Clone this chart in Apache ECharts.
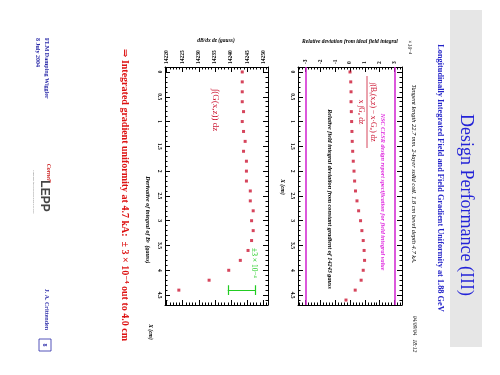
<!DOCTYPE html>
<html><head><meta charset="utf-8">
<script src="https://cdn.jsdelivr.net/npm/echarts@6/dist/echarts.min.js"></script>
<style>html,body{margin:0;padding:0;background:#fff}#c{width:500px;height:375px}</style>
</head><body><div id="c"></div>
<script>
// ---- data ----
const positionsCm = [0,0.2,0.4,0.6,0.8,1.0,1.2,1.4,1.6,1.8,2.0,2.2,2.4,2.6,2.8,3.0,3.2,3.4,3.6,3.8,4.0,4.2,4.4,4.6];
const relDeviation = [0,0.05,0.07,0.07,0.09,0.11,0.13,0.15,0.18,0.22,0.27,0.31,0.37,0.47,0.58,0.71,0.80,0.89,0.95,0.98,0.89,0.75,0.35,-0.27];
const gradientCm = [0,0.2,0.4,0.6,0.8,1.0,1.2,1.4,1.6,1.8,2.0,2.2,2.4,2.6,2.8,3.0,3.2,3.4,3.6,3.8,4.0,4.2,4.4];
const gradientIntegral = [14243.5,14243.5,14243.5,14243.5,14243.9,14243.5,14243.9,14244.4,14243.9,14244.8,14244.8,14244.8,14246.0,14246.0,14246.9,14246.4,14246.9,14246.4,14245.3,14242.9,14239.3,14233.2,14223.8];
const cmTicks = [0,0.5,1,1.5,2,2.5,3,3.5,4,4.5];
const cmTickLabels = ['0','0.5','1','1.5','2','2.5','3','3.5','4','4.5'];
const cmMinorTicks = [0.1,0.2,0.3,0.4,0.6,0.7,0.8,0.9,1.1,1.2,1.3,1.4,1.6,1.7,1.8,1.9,2.1,2.2,2.3,2.4,2.6,2.7,2.8,2.9,3.1,3.2,3.3,3.4,3.6,3.7,3.8,3.9,4.1,4.2,4.3,4.4,4.6,4.7];
const relTicks = [-3,-2,-1,0,1,2,3];
const relTickLabels = ['-3','-2','-1','0','1','2','3'];
const relMinorTicks = [-3.4,-3.2,-2.8,-2.6,-2.4,-2.2,-1.8,-1.6,-1.4,-1.2,-0.8,-0.6,-0.4,-0.2,0.2,0.4,0.6,0.8,1.2,1.4,1.6,1.8,2.2,2.4,2.6,2.8,3.2,3.4];
const gradTicks = [14220,14225,14230,14235,14240,14245,14250];
const gradTickLabels = ['14220','14225','14230','14235','14240','14245','14250'];
const gradMinorTicks = [14221,14222,14223,14224,14226,14227,14228,14229,14231,14232,14233,14234,14236,14237,14238,14239,14241,14242,14243,14244,14246,14247,14248,14249,14251];
const specLimits = [-3,3];
const errorBarCm = 4.4;
const errorBarRange = [14239.0,14247.6];

// ---- styles ----
const SERIF = '"Liberation Serif","DejaVu Serif",serif';
const RED = '#cc1733';
const cmRange = [-0.1,4.7];
const relRange = [-3.5,3.5];
const gradRange = [14219.5,14251.5];

function xAx(grid, pos, range, ticks, labels, len, showLabel, showLine){
  return {type:'value', gridIndex:grid, position:pos, min:range[0], max:range[1],
    axisLine:{show:showLine, onZero:false, lineStyle:{color:'#000', width:1}},
    axisTick:{show:true, inside:true, length:len, customValues:ticks, lineStyle:{color:'#000', width:1}},
    axisLabel:{show:showLabel, customValues:ticks, rotate:-90, margin:3, fontSize:5.5, fontFamily:SERIF, fontWeight:'bold', color:'#000',
      formatter:(v)=>{const i=ticks.indexOf(v); return i>=0 && labels? labels[i] : '';}},
    splitLine:{show:false}};
}
function yAx(grid, pos, ticks, labels, len, showLabel, showLine){
  const a = xAx(grid, pos, cmRange, ticks, labels, len, showLabel, showLine);
  a.inverse = true;
  return a;
}

const xAxes = [
  xAx(0,'top',relRange,relTicks,relTickLabels,5,true,true),
  xAx(0,'bottom',relRange,relTicks,null,5,false,true),
  xAx(0,'top',relRange,relMinorTicks,null,2.5,false,false),
  xAx(0,'bottom',relRange,relMinorTicks,null,2.5,false,false),
  xAx(1,'top',gradRange,gradTicks,gradTickLabels,5,true,true),
  xAx(1,'bottom',gradRange,gradTicks,null,5,false,true),
  xAx(1,'top',gradRange,gradMinorTicks,null,2.5,false,false),
  xAx(1,'bottom',gradRange,gradMinorTicks,null,2.5,false,false)
];
const yAxes = [
  yAx(0,'left',cmTicks,cmTickLabels,5,true,true),
  yAx(0,'right',cmTicks,null,5,false,true),
  yAx(0,'left',cmMinorTicks,null,2.5,false,false),
  yAx(0,'right',cmMinorTicks,null,2.5,false,false),
  yAx(1,'left',cmTicks,cmTickLabels,5,true,true),
  yAx(1,'right',cmTicks,null,5,false,true),
  yAx(1,'left',cmMinorTicks,null,2.5,false,false),
  yAx(1,'right',cmMinorTicks,null,2.5,false,false)
];

function vtext(x, y, text, o){
  o = o || {};
  return {type:'text', x:x, y:y, rotation:-Math.PI/2, z:10,
    style:{text:text, fontSize:o.size||6, fontFamily:o.family||SERIF, fill:o.color||'#000',
      fontWeight:o.weight||'normal', fontStyle:o.style||'normal', align:o.align||'center', verticalAlign:'middle'}};
}
function htext(x, y, text, o){
  const t = vtext(x,y,text,o); t.rotation = 0; return t;
}

const graphics = [
  {type:'rect', shape:{x:450, y:10, width:32, height:337}, style:{fill:'#e6e6e6'}, z:0},
  vtext(466, 205, 'Design Performance (III)', {size:18, color:'#2323d8'}),
  vtext(440, 178, 'Longitudinally Integrated Field and Field Gradient Uniformity at 1.88 GeV', {size:8.3, color:'#2323c8', weight:'bold'}),
  vtext(414, 174, 'Tangent length 22.7 mm. 2-layer solid coil. 1.8 cm bevel depth 4.7 kA.', {size:6.4, style:'italic'}),
  vtext(414, 334, '04/09/04   18:12', {size:5.5, style:'italic'}),
  vtext(409, 47, '×10⁻⁴', {size:5.5, style:'italic'}),
  htext(350, 42, 'Relative deviation from ideal field integral', {size:5.5, style:'italic', weight:'bold'}),
  htext(216, 41, 'dB/dx dz (gauss)', {size:5.5, style:'italic', weight:'bold'}),
  vtext(282, 187, 'X (cm)', {size:5.5, style:'italic', weight:'bold'}),
  vtext(150, 332, 'X (cm)', {size:5.5, style:'italic', weight:'bold'}),
  vtext(148, 241, 'Derivative of integral of B', {size:6, style:'italic', weight:'bold', align:'right'}),
  vtext(148, 241, 'y', {size:4.5, style:'italic', weight:'bold', align:'left'}),
  vtext(148, 244, ' (gauss)', {size:6, style:'italic', weight:'bold', align:'left'}),
  vtext(330, 199, 'Relative field integral deviation from constant gradient of 14243 gauss', {size:6.2, style:'italic', weight:'bold'}),
  vtext(383, 192, 'NSC CESR design report specification for field integral value', {size:6.2, style:'italic', weight:'bold', color:'#e030e0'}),
  // red formula
  {type:'group', x:367, y:112, rotation:-Math.PI/2, z:10, children:[
    {type:'text', x:0, y:-6, style:{text:'∫(B\u1D67(x,z) − x·G₀) dz', fontSize:7.5, fontFamily:SERIF, fill:RED, align:'center', verticalAlign:'middle'}},
    {type:'line', shape:{x1:-36, y1:0, x2:36, y2:0}, style:{stroke:RED, lineWidth:0.8}},
    {type:'text', x:0, y:6, style:{text:'x ∫G₀ dz', fontSize:7.5, fontFamily:SERIF, fill:RED, align:'center', verticalAlign:'middle'}}
  ]},
  vtext(215, 110, '∫(G(x,z)) dz', {size:9, color:RED}),
  vtext(254, 263, '±3 × 10⁻⁴', {size:7.5, color:'#22cc22'}),
  vtext(125, 195, '⇒ Integrated gradient uniformity at 4.7 kA:  ± 3 × 10⁻⁴ out to 4.0 cm', {size:10, color:'#dd1111', weight:'bold'}),
  // footer
  vtext(47, 38, 'FLM Damping Wiggler', {size:6, color:'#2a2aa8', weight:'bold', align:'left'}),
  vtext(38, 38, '8 July 2004', {size:6, color:'#2a2aa8', weight:'bold', align:'left'}),
  vtext(47, 330, 'J. A. Crittenden', {size:6, color:'#2a2aa8', weight:'bold', align:'right'}),
  {type:'rect', shape:{x:39, y:339, width:12, height:12}, style:{fill:'#fff', stroke:'#2a2aa8', lineWidth:0.8}, z:10},
  vtext(45, 345, '8', {size:6, color:'#2a2aa8', weight:'bold'}),
  vtext(49, 173, 'Cornell', {size:6, color:'#cc2222', style:'italic', weight:'bold'}),
  vtext(44, 196, 'LEPP', {size:12, color:'#444', weight:'bold', family:'"Liberation Sans",sans-serif'}),
  vtext(34, 192, 'Laboratory for Elementary-Particle Physics', {size:2.5, color:'#888'})
];

const chart = echarts.init(document.getElementById('c'), null, {renderer:'canvas'});
chart.setOption({
  animation:false,
  backgroundColor:'#fff',
  grid:[
    {left:298, top:67, width:104, height:238, show:false},
    {left:165, top:67, width:103, height:238, show:false}
  ],
  xAxis:xAxes,
  yAxis:yAxes,
  series:[
    {type:'scatter', xAxisIndex:0, yAxisIndex:0, symbol:'rect', symbolSize:3, itemStyle:{color:RED},
      data:positionsCm.map((c,i)=>[relDeviation[i], c]),
      markLine:{silent:true, symbol:'none', label:{show:false}, lineStyle:{color:'#d020d0', width:1.5, type:'solid'},
        data:specLimits.map(v=>({xAxis:v}))}},
    {type:'scatter', xAxisIndex:4, yAxisIndex:4, symbol:'rect', symbolSize:3, itemStyle:{color:RED},
      data:gradientCm.map((c,i)=>[gradientIntegral[i], c])},
    {type:'lines', coordinateSystem:'cartesian2d', xAxisIndex:4, yAxisIndex:4, polyline:false,
      lineStyle:{color:'#22cc22', width:1.2, opacity:1}, silent:true,
      data:[
        {coords:[[errorBarRange[0], errorBarCm],[errorBarRange[1], errorBarCm]]},
        {coords:[[errorBarRange[0], errorBarCm-0.1],[errorBarRange[0], errorBarCm+0.1]]},
        {coords:[[errorBarRange[1], errorBarCm-0.1],[errorBarRange[1], errorBarCm+0.1]]}
      ]}
  ],
  graphic:graphics
});
</script></body></html>
